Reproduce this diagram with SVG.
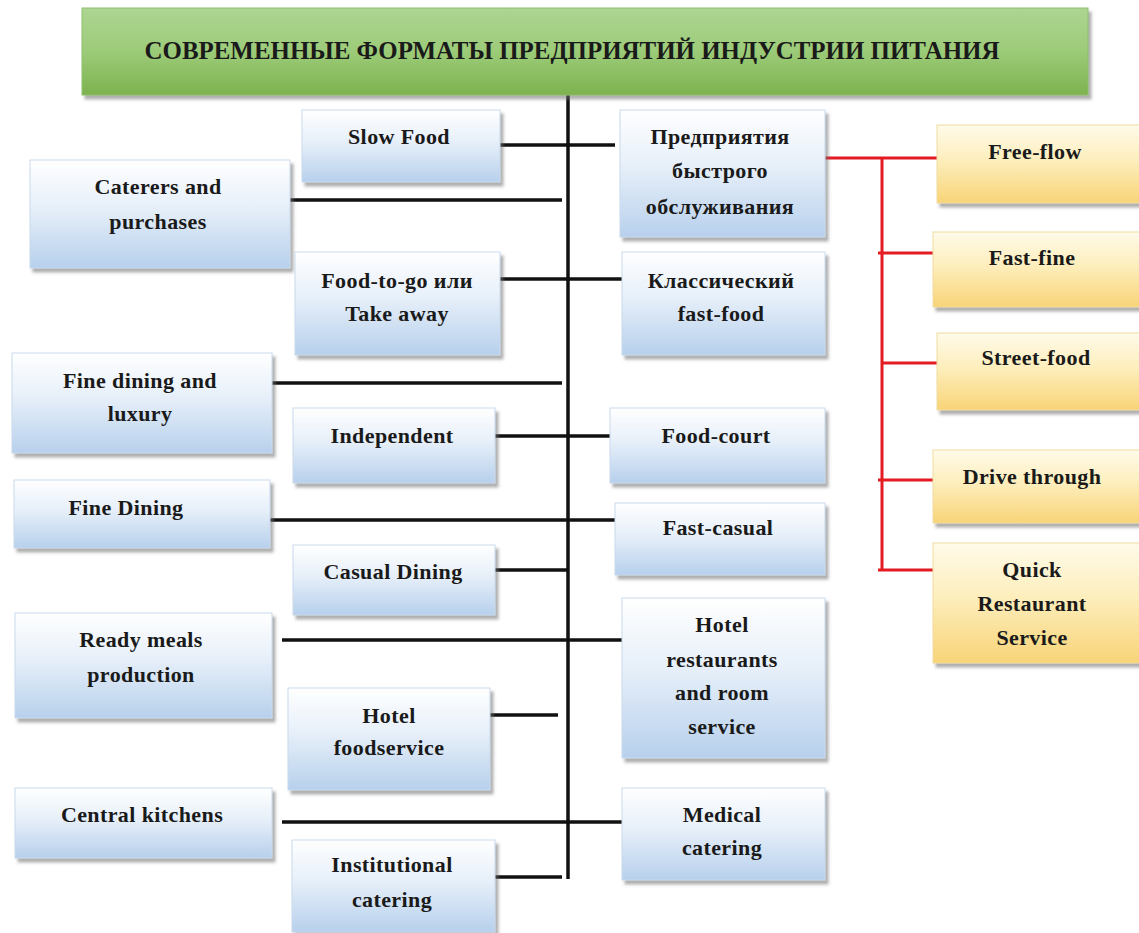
<svg xmlns="http://www.w3.org/2000/svg" width="1139" height="933" viewBox="0 0 1139 933">
  <defs>
    <linearGradient id="gGreen" x1="0" y1="0" x2="0" y2="1">
      <stop offset="0" stop-color="#add593"/>
      <stop offset="0.5" stop-color="#9ccb78"/>
      <stop offset="1" stop-color="#7db24f"/>
    </linearGradient>
    <linearGradient id="gBlue" x1="0" y1="0" x2="0" y2="1">
      <stop offset="0" stop-color="#ffffff"/>
      <stop offset="0.45" stop-color="#e6eff9"/>
      <stop offset="1" stop-color="#b7d0ec"/>
    </linearGradient>
    <linearGradient id="gYellow" x1="0" y1="0" x2="0" y2="1">
      <stop offset="0" stop-color="#fffbea"/>
      <stop offset="0.45" stop-color="#fdeebc"/>
      <stop offset="1" stop-color="#f8d477"/>
    </linearGradient>
    <filter id="shadow" x="-10%" y="-10%" width="125%" height="130%">
      <feDropShadow dx="3" dy="4" stdDeviation="1.6" flood-color="#6d6d6d" flood-opacity="0.55"/>
    </filter>
  </defs>
  <style>
    .box { fill: url(#gBlue); stroke: #c9d9ec; stroke-width: 1; filter: url(#shadow); }
    .ybox { fill: url(#gYellow); stroke: #f0dba0; stroke-width: 1; filter: url(#shadow); }
    .title { fill: url(#gGreen); stroke: #8fbf6d; stroke-width: 1; filter: url(#shadow); }
    text { font-family: "Liberation Serif", "Times New Roman", serif; font-weight: bold; font-size: 22px; fill: #1a1a1a; text-anchor: middle; letter-spacing: 0.4px; }
    .ttl { font-size: 25px; letter-spacing: 0; }
    .blk { stroke: #111111; stroke-width: 3.5; fill: none; }
    .red { stroke: #e31b23; stroke-width: 3; fill: none; }
  </style>
  <rect width="1139" height="933" fill="#ffffff"/>

  <!-- connectors -->
  <g id="connectors">
    <line class="blk" x1="568" y1="94" x2="568" y2="879"/>
    <line class="blk" x1="500" y1="145" x2="615" y2="145"/>
    <line class="blk" x1="290" y1="200" x2="562" y2="200"/>
    <line class="blk" x1="500" y1="279" x2="622" y2="279"/>
    <line class="blk" x1="272" y1="383" x2="562" y2="383"/>
    <line class="blk" x1="495" y1="436" x2="610" y2="436"/>
    <line class="blk" x1="270" y1="520" x2="615" y2="520"/>
    <line class="blk" x1="495" y1="570" x2="568" y2="570"/>
    <line class="blk" x1="282" y1="640" x2="622" y2="640"/>
    <line class="blk" x1="490" y1="715" x2="558" y2="715"/>
    <line class="blk" x1="282" y1="822" x2="622" y2="822"/>
    <line class="blk" x1="495" y1="877" x2="562" y2="877"/>
    <line class="red" x1="825" y1="158" x2="937" y2="158"/>
    <line class="red" x1="882" y1="158" x2="882" y2="571"/>
    <line class="red" x1="878" y1="253" x2="933" y2="253"/>
    <line class="red" x1="882" y1="363" x2="937" y2="363"/>
    <line class="red" x1="878" y1="480" x2="933" y2="480"/>
    <line class="red" x1="878" y1="570" x2="933" y2="570"/>
  </g>

  <!-- heading -->
  <g id="title">
    <rect class="title" x="82" y="8" width="1006" height="87"/>
    <text class="ttl" x="572" y="59" textLength="855" lengthAdjust="spacingAndGlyphs">СОВРЕМЕННЫЕ ФОРМАТЫ ПРЕДПРИЯТИЙ ИНДУСТРИИ ПИТАНИЯ</text>
  </g>

  <!-- left-hand formats -->
  <g id="slow-food">
    <rect class="box" x="302" y="110" width="198" height="72"/>
    <text x="399" y="144">Slow Food</text>
  </g>
  <g id="caterers">
    <rect class="box" x="30" y="160" width="260" height="108"/>
    <text x="158" y="194">Caterers and</text>
    <text x="158" y="229">purchases</text>
  </g>
  <g id="food-to-go">
    <rect class="box" x="295" y="252" width="205" height="103"/>
    <text x="397" y="288">Food-to-go или</text>
    <text x="397" y="321">Take away</text>
  </g>
  <g id="fine-dining-luxury">
    <rect class="box" x="12" y="353" width="260" height="100"/>
    <text x="140" y="388">Fine dining and</text>
    <text x="140" y="421">luxury</text>
  </g>
  <g id="independent">
    <rect class="box" x="293" y="408" width="202" height="75"/>
    <text x="392" y="443">Independent</text>
  </g>
  <g id="fine-dining">
    <rect class="box" x="14" y="480" width="256" height="68"/>
    <text x="126" y="515">Fine Dining</text>
  </g>
  <g id="casual-dining">
    <rect class="box" x="293" y="545" width="202" height="70"/>
    <text x="393" y="579">Casual Dining</text>
  </g>
  <g id="ready-meals">
    <rect class="box" x="15" y="613" width="257" height="105"/>
    <text x="141" y="647">Ready meals</text>
    <text x="141" y="682">production</text>
  </g>
  <g id="hotel-foodservice">
    <rect class="box" x="288" y="688" width="202" height="102"/>
    <text x="389" y="723">Hotel</text>
    <text x="389" y="755">foodservice</text>
  </g>
  <g id="central-kitchens">
    <rect class="box" x="15" y="788" width="257" height="70"/>
    <text x="142" y="822">Central kitchens</text>
  </g>
  <g id="institutional-catering">
    <rect class="box" x="292" y="840" width="203" height="92"/>
    <text x="392" y="872">Institutional</text>
    <text x="392" y="907">catering</text>
  </g>

  <!-- right-hand formats -->
  <g id="fast-service">
    <rect class="box" x="620" y="110" width="205" height="127"/>
    <text x="720" y="144">Предприятия</text>
    <text x="720" y="178">быстрого</text>
    <text x="720" y="214">обслуживания</text>
  </g>
  <g id="classic-fast-food">
    <rect class="box" x="622" y="252" width="203" height="103"/>
    <text x="721" y="288">Классический</text>
    <text x="721" y="321">fast-food</text>
  </g>
  <g id="food-court">
    <rect class="box" x="610" y="408" width="215" height="75"/>
    <text x="716" y="443">Food-court</text>
  </g>
  <g id="fast-casual">
    <rect class="box" x="615" y="503" width="210" height="72"/>
    <text x="718" y="535">Fast-casual</text>
  </g>
  <g id="hotel-restaurants">
    <rect class="box" x="622" y="598" width="203" height="160"/>
    <text x="722" y="632">Hotel</text>
    <text x="722" y="667">restaurants</text>
    <text x="722" y="700">and room</text>
    <text x="722" y="734">service</text>
  </g>
  <g id="medical-catering">
    <rect class="box" x="622" y="788" width="203" height="92"/>
    <text x="722" y="822">Medical</text>
    <text x="722" y="855">catering</text>
  </g>

  <!-- fast-service sub-formats -->
  <g id="free-flow">
    <rect class="ybox" x="937" y="125" width="205" height="78"/>
    <text x="1035" y="159">Free-flow</text>
  </g>
  <g id="fast-fine">
    <rect class="ybox" x="933" y="232" width="208" height="75"/>
    <text x="1032" y="265">Fast-fine</text>
  </g>
  <g id="street-food">
    <rect class="ybox" x="937" y="333" width="205" height="77"/>
    <text x="1036" y="365">Street-food</text>
  </g>
  <g id="drive-through">
    <rect class="ybox" x="933" y="450" width="208" height="73"/>
    <text x="1032" y="484">Drive through</text>
  </g>
  <g id="quick-restaurant-service">
    <rect class="ybox" x="933" y="543" width="208" height="120"/>
    <text x="1032" y="577">Quick</text>
    <text x="1032" y="611">Restaurant</text>
    <text x="1032" y="645">Service</text>
  </g>
</svg>
